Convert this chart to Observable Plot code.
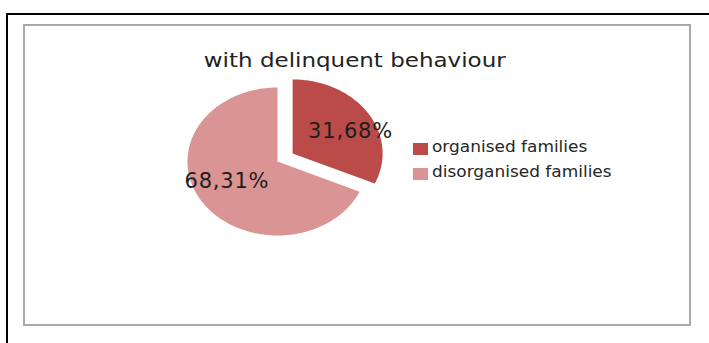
<!DOCTYPE html>
<html>
<head>
<meta charset="utf-8">
<script src="https://cdn.jsdelivr.net/npm/d3@7"></script>
<script src="https://cdn.jsdelivr.net/npm/@observablehq/plot@0.6"></script>
<style>
  html, body { margin: 0; padding: 0; background: #fff; }
  #wrap { position: relative; width: 709px; height: 343px; overflow: hidden; background: #fff; }
  #outer { position: absolute; left: 6px; top: 13px; width: 800px; height: 400px; border: 2px solid #000; box-sizing: border-box; }
  #inner { position: absolute; left: 23px; top: 24px; width: 668px; height: 302px; border: 2px solid #a8a8a8; box-sizing: border-box; }
  #chart { position: absolute; left: 0; top: 0; }
  #chart text { letter-spacing: 0.8px; }
  #title { position: absolute; left: 0; width: 709px; top: 49px; text-align: center; font: 19px "DejaVu Sans", sans-serif; color: #222; }
  #title span { display: inline-block; transform: scaleX(1.21); transform-origin: center; }
  #legend { position: absolute; left: 413px; top: 136px; font: 15px "DejaVu Sans", sans-serif; color: #262626; }
  #legend .row { height: 25px; display: flex; align-items: center; white-space: nowrap; }
  #legend .sw { display: inline-block; width: 15px; height: 12px; margin-right: 4px; }
  #legend .lbl { display: inline-block; transform: scaleX(1.13); transform-origin: left center; position: relative; top: -2px; }
</style>
</head>
<body>
<div id="wrap">
  <div id="outer"></div>
  <div id="inner"></div>
  <div id="chart"></div>
  <div id="title"><span></span></div>
  <div id="legend"></div>
</div>
<script>
const title = "with delinquent behaviour";
const categories = ["organised families", "disorganised families"];
const values = [31.68, 68.31];
const colors = ["#bb4b49", "#d99493"];

// layout (pie centre, radii in px, explosion of first slice, label placement)
const W = 709, H = 343;
const cx = 277, cy = 161, rx = 90, ry = 74;
const explode = [0.2, 0];
const labelR = [0.71, 0.62];
const labelTurn = 0.14;

document.querySelector("#title span").textContent = title;

const arcs = d3.pie().sort(null).value(d => d)(values);

const poly = [];
const labels = [];
arcs.forEach((a, i) => {
  const mid = (a.startAngle + a.endAngle) / 2;
  const ox = Math.sin(mid) * explode[i], oy = Math.cos(mid) * explode[i];
  poly.push({cat: categories[i], x: ox, y: oy});
  const n = Math.max(2, Math.ceil((a.endAngle - a.startAngle) / (Math.PI / 180)));
  for (let k = 0; k <= n; k++) {
    const t = a.startAngle + (a.endAngle - a.startAngle) * k / n;
    poly.push({cat: categories[i], x: ox + Math.sin(t), y: oy + Math.cos(t)});
  }
  poly.push({cat: categories[i], x: ox, y: oy});
  const la = mid + labelTurn;
  labels.push({
    cat: categories[i],
    text: values[i].toFixed(2).replace(".", ",") + "%",
    x: ox + Math.sin(la) * labelR[i],
    y: oy + Math.cos(la) * labelR[i]
  });
});

const chart = Plot.plot({
  width: W,
  height: H,
  margin: 0,
  x: {domain: [-cx / rx, (W - cx) / rx], range: [0, W], axis: null},
  y: {domain: [-(H - cy) / ry, cy / ry], range: [H, 0], axis: null},
  color: {domain: categories, range: colors},
  style: {background: "transparent"},
  marks: [
    Plot.line(poly, {x: "x", y: "y", z: "cat", fill: "cat", stroke: null, curve: "linear"}),
    Plot.text(labels, {x: "x", y: "y", text: "text", fill: "#1e1e1e", fontSize: 21, fontFamily: "DejaVu Sans", textAnchor: "middle"})
  ]
});
document.getElementById("chart").appendChild(chart);

const legend = document.getElementById("legend");
categories.forEach((c, i) => {
  const row = document.createElement("div");
  row.className = "row";
  const sw = document.createElement("span");
  sw.className = "sw";
  sw.style.background = chart.scale("color").apply(c);
  const lbl = document.createElement("span");
  lbl.className = "lbl";
  lbl.textContent = c;
  row.appendChild(sw);
  row.appendChild(lbl);
  legend.appendChild(row);
});
</script>
</body>
</html>
